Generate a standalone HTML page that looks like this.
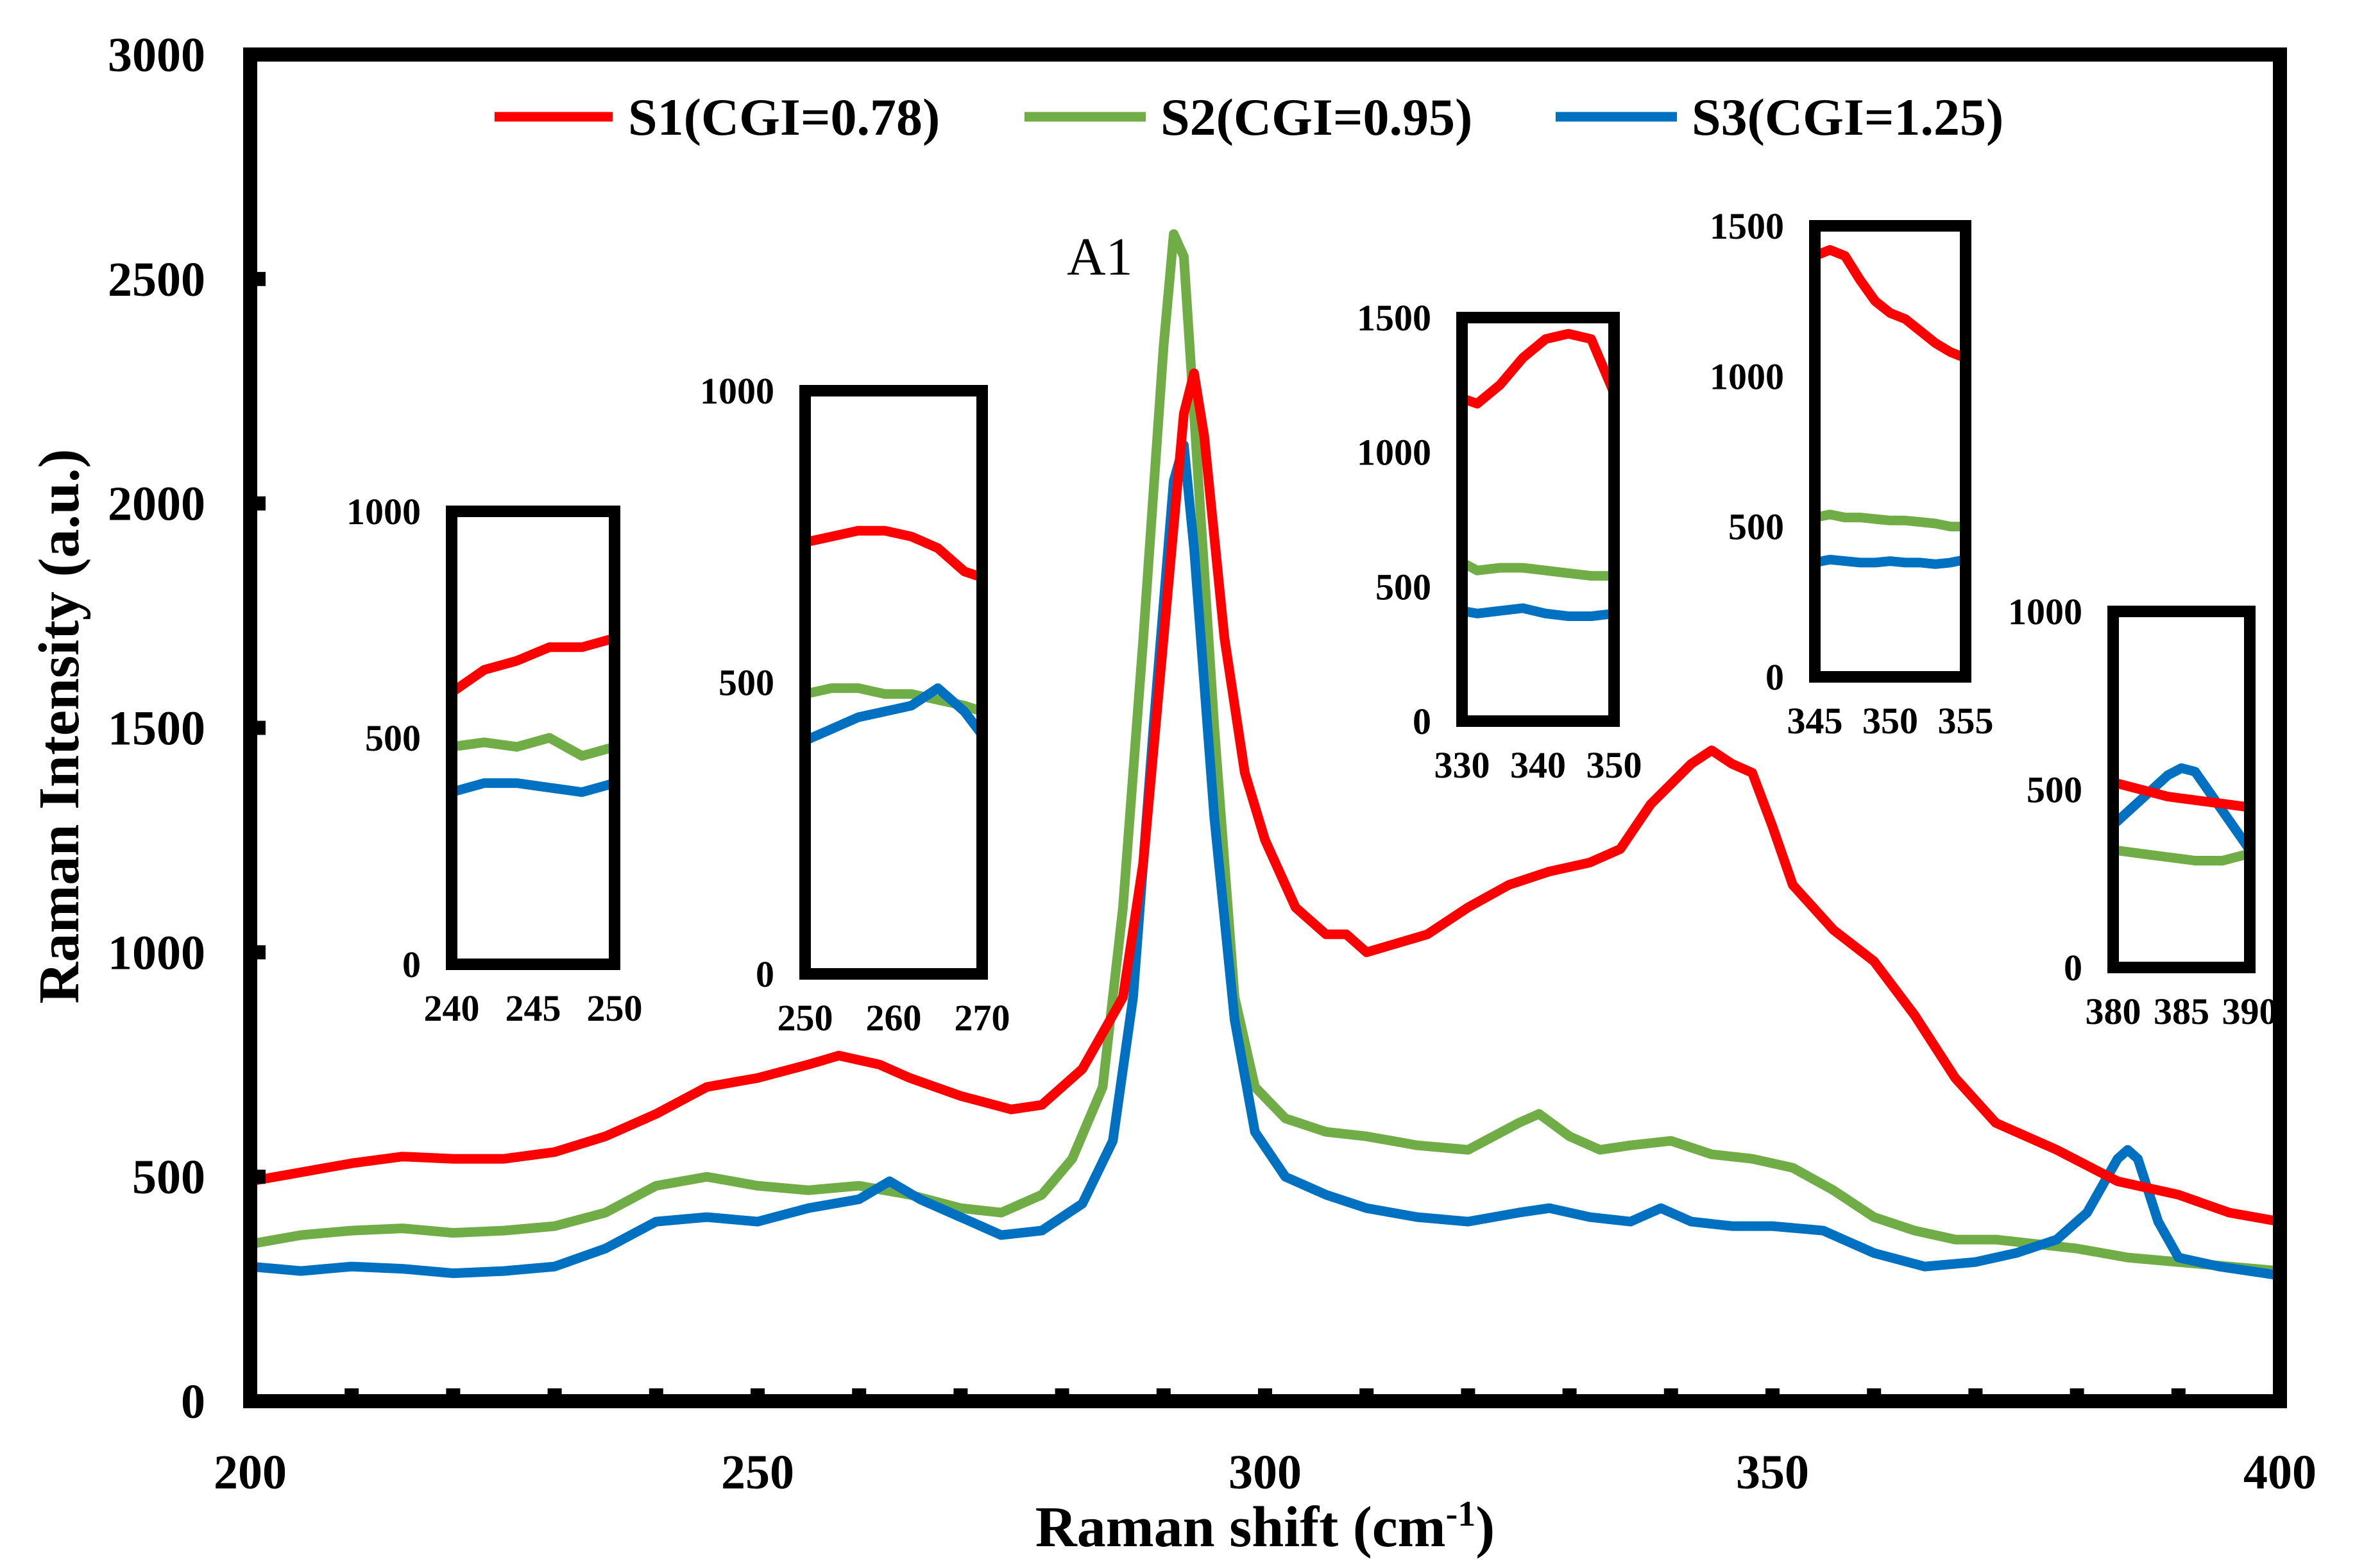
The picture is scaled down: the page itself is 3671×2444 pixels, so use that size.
<!DOCTYPE html>
<html><head><meta charset="utf-8">
<style>
html,body{margin:0;padding:0;background:#fff;}
svg{display:block;}
text{font-family:"Liberation Serif",serif;font-weight:bold;fill:#000;}
</style></head>
<body>
<svg id="chart" width="3671" height="2444" viewBox="0 0 3671 2444" xmlns="http://www.w3.org/2000/svg">
<rect x="0" y="0" width="3671" height="2444" fill="#fff"/>
<g id="series"></g>
<g id="axes"></g>
<g id="insets"></g>
<g>
  <line x1="771" y1="182" x2="955" y2="182" stroke="#ff0000" stroke-width="15"/>
  <text x="979" y="210" font-size="82">S1(CGI=0.78)</text>
  <line x1="1597" y1="182" x2="1786" y2="182" stroke="#70ad47" stroke-width="15"/>
  <text x="1809" y="210" font-size="82">S2(CGI=0.95)</text>
  <line x1="2425" y1="182" x2="2614" y2="182" stroke="#0070c0" stroke-width="15"/>
  <text x="2637" y="210" font-size="82">S3(CGI=1.25)</text>
</g>
<text x="1663" y="428" font-size="84" style="font-weight:normal">A1</text>
<text x="1972" y="2410" font-size="90" text-anchor="middle">Raman shift (cm<tspan dy="-32" font-size="56">-1</tspan><tspan dy="32">)</tspan></text>
<text transform="translate(122,1132) rotate(-90)" font-size="90" text-anchor="middle">Raman Intensity (a.u.)</text>
</svg>
<script>
const NS="http://www.w3.org/2000/svg";
// ---- main data ----
const xTicks=[200,250,300,350,400];
const yTicks=[0,500,1000,1500,2000,2500,3000];
const s1X=[200,205,210,215,220,225,230,235,240,245,250,255,258,262,265,270,275,278,282,286,288,290,292,293,294,296,298,300,303,306,308,310,313,316,320,324,328,332,335,338,342,344,346,348,350,352,356,360,364,368,372,378,384,390,395,400];
const s1Y=[490,510,530,545,540,540,555,590,640,700,720,750,770,750,720,680,650,660,740,900,1200,1700,2200,2290,2150,1700,1400,1250,1100,1040,1040,1000,1020,1040,1100,1150,1180,1200,1230,1330,1420,1450,1420,1400,1280,1150,1050,980,860,720,620,560,490,460,420,400];
const s2X=[200,205,210,215,220,225,230,235,240,245,250,255,260,265,270,274,278,281,284,286,288,290,291,292,293,295,297,299,302,306,310,315,320,325,327,330,333,336,340,344,348,352,356,360,364,368,372,376,380,385,390,395,400];
const s2Y=[350,370,380,385,375,380,390,420,480,500,480,470,480,460,430,420,460,540,700,1100,1700,2350,2600,2550,2200,1500,900,700,630,600,590,570,560,620,640,590,560,570,580,550,540,520,470,410,380,360,360,350,340,320,310,300,290];
const s3X=[200,205,210,215,220,225,230,235,240,245,250,255,260,263,266,270,274,278,282,285,287,289,291,292,293,295,297,299,302,306,310,315,320,325,328,332,336,339,342,346,350,355,360,365,370,374,378,381,384,385,386,388,390,394,400];
const s3Y=[300,290,300,295,285,290,300,340,400,410,400,430,450,490,450,410,370,380,440,580,900,1500,2050,2130,1900,1300,850,600,500,460,430,410,400,420,430,410,400,430,400,390,390,380,330,300,310,330,360,420,540,560,540,400,320,300,280];
// ---- inset data ----
const in1X=[240,242,244,246,248,250];
const in1R=[600,650,670,700,700,720];
const in1G=[480,490,480,500,460,480];
const in1B=[380,400,400,390,380,400];
const in2X=[250,253,256,259,262,265,268,270];
const in2R=[740,750,760,760,750,730,690,680];
const in2G=[480,490,490,480,480,470,460,450];
const in2B=[400,420,440,450,460,490,450,410];
const in3X=[330,332,335,338,341,344,347,350];
const in3R=[1200,1180,1250,1350,1420,1440,1420,1220];
const in3G=[590,560,570,570,560,550,540,540];
const in3B=[410,400,410,420,400,390,390,400];
const in4X=[345,346,347,348,349,350,351,352,353,354,355];
const in4R=[1400,1420,1400,1320,1250,1210,1190,1150,1110,1080,1060];
const in4G=[530,540,530,530,525,520,520,515,510,500,500];
const in4B=[380,390,385,380,380,385,380,380,375,380,390];
const in5X=[380,382,384,385,386,388,390];
const in5R=[520,500,480,475,470,460,450];
const in5G=[330,320,310,305,300,300,320];
const in5B=[400,470,540,560,550,440,330];

const COL={r:"#ff0000",g:"#70ad47",b:"#0070c0"};
const X=v=>390+(v-200)*(3554-390)/200;
const Y=v=>2184-v*(2184-85)/3000;

function mk(tag,attrs,parent){const e=document.createElementNS(NS,tag);for(const k in attrs)e.setAttribute(k,attrs[k]);parent.appendChild(e);return e;}
function path(xs,ys,fx,fy){return xs.map((x,i)=>(i?"L":"M")+fx(x).toFixed(1)+","+fy(ys[i]).toFixed(1)).join("");}

const gs=document.getElementById("series");
[[s2X,s2Y,COL.g,"series-s2"],[s3X,s3Y,COL.b,"series-s3"],[s1X,s1Y,COL.r,"series-s1"]].forEach(s=>{
  const p=mk("path",{d:path(s[0],s[1],X,Y),fill:"none",stroke:s[2],"stroke-width":15,"stroke-linejoin":"round"},gs);
  
  
});
const ga=document.getElementById("axes");
const fr=mk("rect",{x:390,y:85,width:3164,height:2099,fill:"none",stroke:"#000","stroke-width":22},ga);


for(let v=210;v<400;v+=10){
  const t=mk("rect",{x:X(v)-11,y:2164,width:22,height:10,fill:"#000"},ga);
  
  
}
xTicks.forEach(v=>{
  const t=mk("text",{x:X(v),y:2320,"font-size":76,"text-anchor":"middle"},ga);t.textContent=v;
  
  
});
yTicks.forEach(v=>{
  if(v>0&&v<3000){const m=mk("rect",{x:400,y:Y(v)-11,width:14,height:22,fill:"#000"},ga);
    
    }
  const t=mk("text",{x:320,y:Y(v)+26,"font-size":76,"text-anchor":"end"},ga);t.textContent=v;
  
  
});

const gi=document.getElementById("insets");
function inset(name,box,xs,r,g,b,xt,yt,ymax){
  const [x0,y0,x1,y1]=box;
  const fx=v=>x0+(v-xs[0])/(xs[xs.length-1]-xs[0])*(x1-x0);
  const fy=v=>y1-v/ymax*(y1-y0);
  const grp=mk("g",{},gi);
  
  
  [[g,COL.g,"green"],[b,COL.b,"blue"],[r,COL.r,"red"]].forEach(s=>{
    const p=mk("path",{d:path(xs,s[0],fx,fy),fill:"none",stroke:s[1],"stroke-width":15,"stroke-linejoin":"round"},grp);
    
    
  });
  const f=mk("rect",{x:x0,y:y0,width:x1-x0,height:y1-y0,fill:"none",stroke:"#000","stroke-width":18},grp);
  
  
  xt.forEach(v=>{
    const t=mk("text",{x:fx(v),y:y1+88,"font-size":58,"text-anchor":"middle"},grp);t.textContent=v;
    
    
  });
  yt.forEach(v=>{
    const t=mk("text",{x:x0-48,y:fy(v)+20,"font-size":58,"text-anchor":"end"},grp);t.textContent=v;
    
    
  });
}
inset("inset-240-250",[704,797,958,1503],in1X,in1R,in1G,in1B,[240,245,250],[0,500,1000],1000);
inset("inset-250-270",[1255,609,1531,1518],in2X,in2R,in2G,in2B,[250,260,270],[0,500,1000],1000);
inset("inset-330-350",[2279,495,2516,1124],in3X,in3R,in3G,in3B,[330,340,350],[0,500,1000,1500],1500);
inset("inset-345-355",[2829,352,3064,1055],in4X,in4R,in4G,in4B,[345,350,355],[0,500,1000,1500],1500);
inset("inset-380-390",[3294,953,3507,1508],in5X,in5R,in5G,in5B,[380,385,390],[0,500,1000],1000);
</script>
</body></html>
